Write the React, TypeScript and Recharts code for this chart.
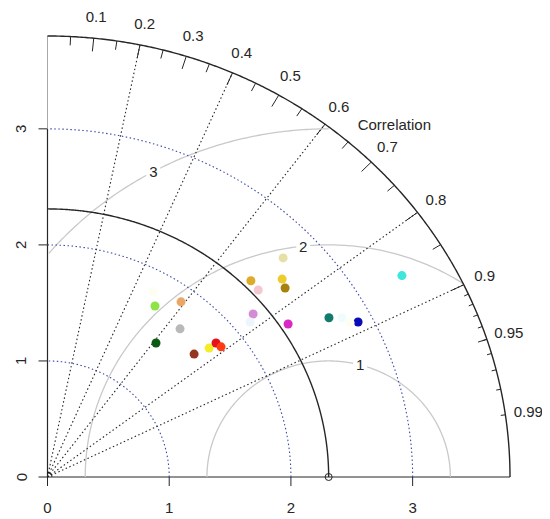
import React from 'react';
import { ScatterChart, Scatter, XAxis, YAxis, ReferenceLine, ReferenceDot, Cell } from 'recharts';

// Taylor diagram: model standard deviation + correlation against the observed field
const MAX_SD = 3.8;
const REF_SD = 2.31;

const modelSd = [
  1.718, 1.866, 1.678, 1.459, 1.604, 1.731, 1.803, 1.814, 2.377, 2.365, 2.197,
  2.376, 2.704, 2.574, 2.542, 2.689, 2.88, 3.39, 2.134, 1.816, 2.781, 2.819
];
const modelCor = [
  0.514, 0.588, 0.649, 0.611, 0.751, 0.767, 0.768, 0.786, 0.703, 0.732, 0.769,
  0.832, 0.716, 0.749, 0.768, 0.86, 0.886, 0.859, 0.78, 0.477, 0.87, 0.882
];
const modelColors = [
  '#8ee445', '#e9a766', '#b9b9b9', '#0a5a14', '#93351f', '#f2ee2a', '#e4101a', '#ff3a10',
  '#deaa2a', '#f4c6d2', '#d58ad6', '#d928c6', '#e6e0a6', '#eecb2c', '#a8800e', '#137b6e',
  '#0a0ab8', '#3ee6dc', '#eef5fc', '#fdfdf2', '#effcfc', '#fdfdf0'
];

const sdGrid = [1, 2, 3];
const rmsGrid = [1, 2, 3];
const rmsLabelAngle = [75, 96, 118.7];
const corRays = [0.2, 0.4, 0.6, 0.8, 0.9];
const corMajor = [0.1, 0.2, 0.3, 0.4, 0.5, 0.6, 0.7, 0.8, 0.9];
const corMedium = [0.05, 0.15, 0.25, 0.35, 0.45, 0.55, 0.65, 0.75, 0.85, 0.95];
const corMinor = [0.91, 0.92, 0.93, 0.94, 0.95, 0.96, 0.97, 0.98, 0.99];
const corLabels = ['0.1', '0.2', '0.3', '0.4', '0.5', '0.6', '0.7', '0.8', '0.9', '0.95', '0.99'];
const axisTicks = [0, 1, 2, 3];

const FONT = "'Liberation Sans', Arial, Helvetica, sans-serif";
const INK = '#262626';

const points = modelSd.map((sd, i) => ({
  x: sd * modelCor[i],
  y: sd * Math.sqrt(1 - modelCor[i] * modelCor[i])
}));

// arc around (cx, 0), kept inside the quarter circle of radius MAX_SD
const arc = (r: number, cx = 0, to = Math.PI / 2) => {
  const out: { x: number; y: number }[] = [];
  for (let k = 0; k <= 360; k++) {
    const t = (to * k) / 360;
    const x = cx + r * Math.cos(t);
    const y = r * Math.sin(t);
    if (x >= -1e-9 && Math.hypot(x, y) <= MAX_SD + 1e-9) out.push({ x: Math.max(x, 0), y: Math.min(y, MAX_SD) });
  }
  return out;
};

const polar = (r: number, c: number) => ({ x: r * c, y: r * Math.sqrt(1 - c * c) });

const noShape = () => <g />;

const textShape = (label: string, size = 15, bg = false) => (p: any) => (
  <g>
    {bg && <rect x={p.cx - 7} y={p.cy - 9} width={14} height={18} fill="#fff" />}
    <text
      x={p.cx}
      y={p.cy}
      textAnchor="middle"
      dominantBaseline="central"
      fontFamily={FONT}
      fontSize={size}
      fill={INK}
    >
      {label}
    </text>
  </g>
);

const XTick = (props: any) => (
  <text x={props.x} y={props.y + 25} textAnchor="middle" fontFamily={FONT} fontSize={15} fill={INK}>
    {props.payload.value}
  </text>
);

const YTick = (props: any) => {
  const x = props.x - 10;
  return (
    <text
      x={x}
      y={props.y}
      transform={`rotate(-90 ${x} ${props.y})`}
      textAnchor="middle"
      fontFamily={FONT}
      fontSize={15}
      fill={INK}
    >
      {props.payload.value}
    </text>
  );
};

const tickSegment = (c: number, inner: number, key: string) => (
  <ReferenceLine
    key={key}
    segment={[polar(MAX_SD, c), polar(MAX_SD * inner, c)]}
    stroke={INK}
    strokeWidth={1}
    ifOverflow="visible"
  />
);

export default function App() {
  return (
    <ScatterChart width={542} height={511} margin={{ top: 28, right: 40, bottom: 0, left: 0 }}>
      <XAxis
        type="number"
        dataKey="x"
        domain={[0, MAX_SD]}
        ticks={axisTicks}
        tickSize={9}
        height={42}
        stroke={INK}
        tick={<XTick />}
      />
      <YAxis
        type="number"
        dataKey="y"
        domain={[0, MAX_SD]}
        ticks={axisTicks}
        tickSize={9}
        width={39.5}
        axisLine={false}
        tickLine={{ stroke: INK }}
        tick={<YTick />}
      />

      {/* y axis line: black over the labelled range, grey above */}
      <Scatter data={[{ x: 0, y: 0 }, { x: 0, y: 3 }]} line={{ stroke: INK, strokeWidth: 1.2 }} shape={noShape} isAnimationActive={false} />
      <Scatter data={[{ x: 0, y: 3 }, { x: 0, y: MAX_SD }]} line={{ stroke: '#a8a8a8', strokeWidth: 1 }} shape={noShape} isAnimationActive={false} />

      {/* centred RMS difference arcs */}
      {rmsGrid.map((r) => (
        <Scatter
          key={`rms-${r}`}
          data={arc(r, REF_SD, Math.PI)}
          line={{ stroke: '#c9c9c9', strokeWidth: 1.3 }}
          shape={noShape}
          isAnimationActive={false}
        />
      ))}

      {/* standard deviation arcs */}
      {sdGrid.map((r) => (
        <Scatter
          key={`sd-${r}`}
          data={arc(r)}
          line={{ stroke: '#3b4aa6', strokeWidth: 1.1, strokeDasharray: '1.5 2.5' }}
          shape={noShape}
          isAnimationActive={false}
        />
      ))}

      {/* correlation rays */}
      {corRays.map((c) => (
        <Scatter
          key={`ray-${c}`}
          data={[{ x: 0, y: 0 }, polar(MAX_SD, c)]}
          line={{ stroke: INK, strokeWidth: 1.1, strokeDasharray: '1.5 2.5' }}
          shape={noShape}
          isAnimationActive={false}
        />
      ))}

      {/* reference sd arc, outer arc, origin mark */}
      <Scatter data={arc(REF_SD)} line={{ stroke: INK, strokeWidth: 1.4 }} shape={noShape} isAnimationActive={false} />
      <Scatter data={arc(MAX_SD)} line={{ stroke: INK, strokeWidth: 1.4 }} shape={noShape} isAnimationActive={false} />
      <Scatter data={arc(0.035, 0, Math.PI)} line={{ stroke: INK, strokeWidth: 1 }} shape={noShape} isAnimationActive={false} />

      {corMajor.map((c) => tickSegment(c, 0.97, `tM-${c}`))}
      {corMedium.map((c) => tickSegment(c, 0.98, `tm-${c}`))}
      {corMinor.map((c) => tickSegment(c, 0.99, `ts-${c}`))}

      {corLabels.map((l) => {
        const p = polar(MAX_SD * 1.05, parseFloat(l));
        return <ReferenceDot key={`cl-${l}`} x={p.x} y={p.y} ifOverflow="visible" shape={textShape(l)} />;
      })}
      <ReferenceDot x={2.85} y={3.04} ifOverflow="visible" shape={textShape('Correlation')} />

      {rmsGrid.map((r, i) => {
        const a = (rmsLabelAngle[i] * Math.PI) / 180;
        return (
          <ReferenceDot
            key={`rl-${r}`}
            x={REF_SD + r * Math.cos(a)}
            y={r * Math.sin(a)}
            ifOverflow="visible"
            shape={textShape(String(r), 15, true)}
          />
        );
      })}

      <Scatter data={points} isAnimationActive={false}>
        {points.map((_, i) => (
          <Cell key={i} fill={modelColors[i]} />
        ))}
      </Scatter>

      <ReferenceDot x={REF_SD} y={0} r={3.5} fill="none" stroke={INK} strokeWidth={1} ifOverflow="visible" />
    </ScatterChart>
  );
}
